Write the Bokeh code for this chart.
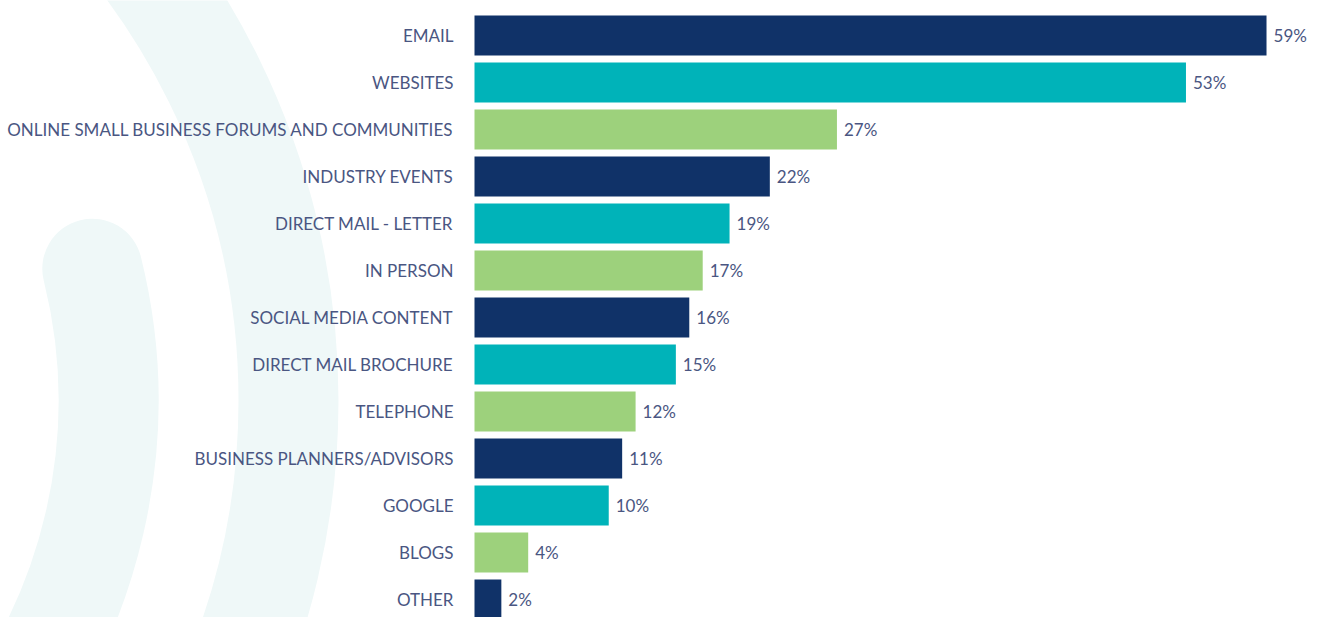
import math
from bokeh.plotting import figure
from bokeh.models import ColumnDataSource, Range1d
from bokeh.core.properties import value
from bokeh.embed import file_html
from bokeh.resources import INLINE

# ---------------- data ----------------
categories = ["EMAIL", "WEBSITES", "ONLINE SMALL BUSINESS FORUMS AND COMMUNITIES",
              "INDUSTRY EVENTS", "DIRECT MAIL - LETTER", "IN PERSON",
              "SOCIAL MEDIA CONTENT", "DIRECT MAIL BROCHURE", "TELEPHONE",
              "BUSINESS PLANNERS/ADVISORS", "GOOGLE", "BLOGS", "OTHER"]
values = [59, 53, 27, 22, 19, 17, 16, 15, 12, 11, 10, 4, 2]
value_labels = ["59%", "53%", "27%", "22%", "19%", "17%", "16%", "15%",
                "12%", "11%", "10%", "4%", "2%"]
palette = ["#103268", "#00b3b9", "#9dd17c"]

# ---------------- layout ----------------
W, H = 1319, 617
PX_PER_PCT = 13.424
BAR_LEFT_PX = 474          # figure px where 0% lies
ROW_PX = 47.0
FIRST_ROW_PX = 35.0        # figure px of first row centre

x_start = -BAR_LEFT_PX / PX_PER_PCT
x_end = x_start + W / PX_PER_PCT
y_top = -FIRST_ROW_PX / ROW_PX
y_bottom = y_top + H / ROW_PX

TEXT_COLOR = "#4a5682"
FONT = value("Lato")

rows = list(range(len(categories)))
colors = [palette[i % 3] for i in rows]
src = ColumnDataSource(dict(y=rows, v=values, cat=categories, lab=value_labels,
                            color=colors, zero=[0] * len(rows)))

p = figure(width=W, height=H, output_backend="svg", toolbar_location=None,
           x_range=Range1d(x_start, x_end), y_range=Range1d(y_bottom, y_top),
           x_axis_location=None, y_axis_location=None, min_border=0,
           outline_line_color=None, background_fill_color="white",
           border_fill_color="white")
p.xgrid.visible = False
p.ygrid.visible = False

# ---- faint decorative arcs (background) ----
def fx(px):
    return x_start + px / PX_PER_PCT

def fy(py):
    return y_top + py / ROW_PX

cx, cy = fx(-437), fy(400)
DECO = "#eff8f8"
p.arc(x=[cx], y=[cy], radius=725, radius_units="screen",
      start_angle=math.radians(-50), end_angle=math.radians(50),
      line_color=DECO, line_width=100)
p.arc(x=[cx], y=[cy], radius=545, radius_units="screen",
      start_angle=math.radians(-40), end_angle=math.radians(14),
      line_color=DECO, line_width=100, line_cap="round")

# ---- bars ----
p.hbar(y="y", left="zero", right="v", height=40 / ROW_PX, color="color",
       line_color=None, source=src)

# ---- category labels ----
p.text(x="zero", y="y", text="cat", source=src, x_offset=-21,
       text_align="right", text_baseline="middle", text_font=FONT,
       text_font_size="17px", text_color=TEXT_COLOR)

# ---- value labels ----
p.text(x="v", y="y", text="lab", source=src, x_offset=7,
       text_align="left", text_baseline="middle", text_font=FONT,
       text_font_size="17px", text_color=TEXT_COLOR)

open("out.html", "w").write(file_html(p, INLINE))
